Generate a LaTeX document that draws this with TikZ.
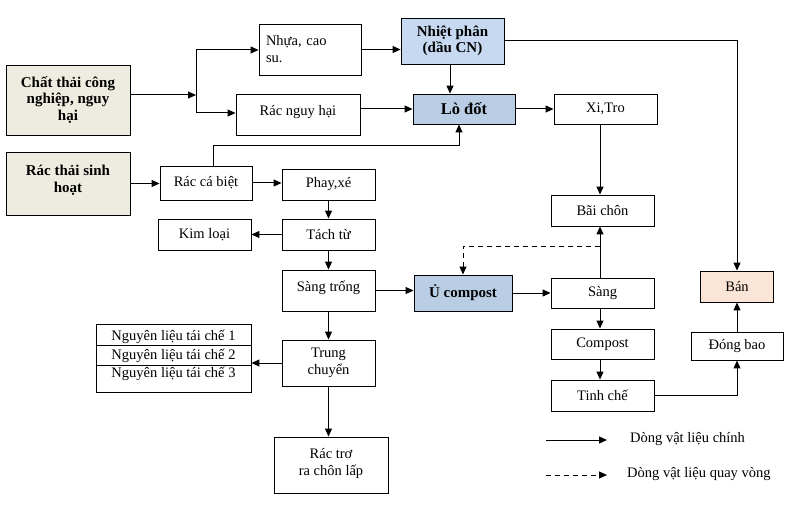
\documentclass[tikz,border=0pt]{standalone}
\usepackage{fontspec}
\setmainfont{Liberation Serif}
\usetikzlibrary{arrows.meta,calc}
\definecolor{beige}{HTML}{EEECE1}
\definecolor{lblue}{HTML}{C6D9F1}
\definecolor{mblue}{HTML}{B9CDE5}
\definecolor{peach}{HTML}{FBE5D6}
\tikzset{
 box/.style={draw, line width=0.9pt, inner sep=1pt, align=center, font=\fontsize{14.5}{17}\selectfont},
 bbox/.style={box, font=\fontsize{15}{16.5}\selectfont\bfseries},
 arr/.style={line width=1pt, -{Triangle[length=8pt,width=7pt]}},
 ln/.style={line width=1pt},
 txt/.style={inner sep=0pt, font=\fontsize{14.5}{17}\selectfont},
 dsh/.style={dash pattern=on 5pt off 4pt},
}
\begin{document}
\begin{tikzpicture}[x=1pt,y=-1pt]
\useasboundingbox (0,0) rectangle (803,513);
% boxes
\node[bbox, fill=beige, minimum width=124pt, minimum height=70pt] (ctcn) at (68,100) {Chất thải công\\nghiệp, nguy\\hại};
\node[bbox, fill=beige, minimum width=124pt, minimum height=63pt, text depth=9pt] (rtsh) at (68,183.5) {Rác thải sinh\\hoạt};
\node[box, minimum width=102pt, minimum height=51pt, align=left, text width=88pt] (nhua) at (310,49.5) {Nhựa, cao\\su.};
\node[box, minimum width=124pt, minimum height=41pt, text depth=8pt] (rnh) at (298,114.5) {Rác nguy hại};
\node[bbox, fill=lblue, minimum width=103pt, minimum height=46pt] (np) at (452.5,41) {Nhiệt phân\\(dầu CN)};
\node[bbox, fill=mblue, minimum width=102pt, minimum height=30pt, font=\fontsize{16.5}{18}\selectfont\bfseries] (lodot) at (464,109) {Lò đốt};
\node[box, minimum width=103pt, minimum height=30pt] (xitro) at (605.5,109) {Xi,Tro};
\node[box, minimum width=103pt, minimum height=31pt] (baichon) at (602.5,210.5) {Bãi chôn};
\node[box, minimum width=92pt, minimum height=34pt] (rcb) at (206,183) {Rác cá biệt};
\node[box, minimum width=93pt, minimum height=31pt] (phay) at (328.5,184.5) {Phay,xé};
\node[box, minimum width=93pt, minimum height=31pt] (kim) at (204.5,234.5) {Kim loại};
\node[box, minimum width=93pt, minimum height=31pt] (tachtu) at (328.5,234.5) {Tách từ};
\node[box, minimum width=93pt, minimum height=41pt, text depth=8pt] (sangtrong) at (328.5,290.5) {Sàng trống};
\node[bbox, fill=mblue, minimum width=98pt, minimum height=36pt] (ucompost) at (463,293) {Ủ compost};
\node[box, minimum width=103pt, minimum height=30pt] (sang) at (602.5,293) {Sàng};
\node[box, minimum width=103pt, minimum height=30pt] (compost) at (602.5,344) {Compost};
\node[box, minimum width=103pt, minimum height=31pt] (tinhche) at (602.5,395.5) {Tinh chế};
\node[box, fill=peach, minimum width=73pt, minimum height=31pt] (ban) at (737,286.5) {Bán};
\node[box, minimum width=92pt, minimum height=28pt] (dongbao) at (737,346) {Đóng bao};
\node[box, minimum width=155pt, minimum height=68pt] (nl) at (173.5,358) {};
\node[txt] (nl1) at (173.5,337) {Nguyên liệu tái chế 1};
\node[txt] (nl2) at (173.5,356) {Nguyên liệu tái chế 2};
\node[txt] (nl3) at (173.5,374) {Nguyên liệu tái chế 3};
\draw[line width=0.9pt] (nl.west |- 0,345) -- (nl.east |- 0,345);
\draw[line width=0.9pt] (nl.west |- 0,365) -- (nl.east |- 0,365);
\node[box, minimum width=93pt, minimum height=46pt] (trung) at (328.5,363) {Trung\\chuyển};
\node[box, minimum width=114pt, minimum height=56pt, text depth=6pt] (ractro) at (331,465) {Rác trơ\\ra chôn lấp};
% helper coordinates
\coordinate (split) at (196,95);
\coordinate (splitT) at (196,50);
\coordinate (splitB) at (196,113);
\coordinate (colx) at (600,0);
\coordinate (rcbup) at (213,146);
\coordinate (lodx) at (459,0);
\coordinate (npx) at (450,0);
\coordinate (dshc) at (600,246);
% connectors
\draw[arr] (ctcn.east |- split) -- (split);
\draw[ln] (splitT) -- (splitB);
\draw[arr] (splitT) -- (nhua.west |- splitT);
\draw[arr] (splitB) -- (rnh.west |- splitB);
\draw[arr] (nhua.east) -- (np.west |- nhua.east);
\draw[arr] (lodot.west -| rnh.east) -- (lodot.west);
\draw[arr] (np.south -| npx) -- (lodot.north -| npx);
\draw[arr] (np.east) -| (ban.north);
\draw[arr] (lodot.east) -- (xitro.west);
\draw[arr] (xitro.south -| colx) -- (baichon.north -| colx);
\draw[arr] (rcb.north -| rcbup) -- (rcbup) -| (lodot.south -| lodx);
\draw[arr] (rtsh.east) -- (rcb.west |- rtsh.east);
\draw[arr] (rcb.east) -- (phay.west |- rcb.east);
\draw[arr] (phay.south) -- (tachtu.north);
\draw[arr] (tachtu.west) -- (kim.east);
\draw[arr] (tachtu.south) -- (sangtrong.north);
\draw[arr] (sangtrong.east) -- (ucompost.west |- sangtrong.east);
\draw[arr] (ucompost.east) -- (sang.west);
\draw[arr] (sang.north -| colx) -- (baichon.south -| colx);
\draw[arr, dsh] (dshc) -| (ucompost.north);
\draw[arr] (sang.south -| colx) -- (compost.north -| colx);
\draw[arr] (compost.south -| colx) -- (tinhche.north -| colx);
\draw[arr] (tinhche.east) -| (dongbao.south);
\draw[arr] (dongbao.north) -- (ban.south);
\draw[arr] (sangtrong.south) -- (trung.north);
\draw[arr] (trung.west) -- (nl.east |- trung.west);
\draw[arr] (trung.south) -- (ractro.north -| trung.south);
% legend
\coordinate (l1a) at (546,440);
\coordinate (l1b) at (607,440);
\coordinate (l2a) at (546,475);
\coordinate (l2b) at (607,475);
\draw[arr] (l1a) -- (l1b);
\draw[arr, dsh] (l2a) -- (l2b);
\node[txt, anchor=west] (l1t) at (630,439) {Dòng vật liệu chính};
\node[txt, anchor=west] (l2t) at (627,474) {Dòng vật liệu quay vòng};
\end{tikzpicture}
\end{document}
